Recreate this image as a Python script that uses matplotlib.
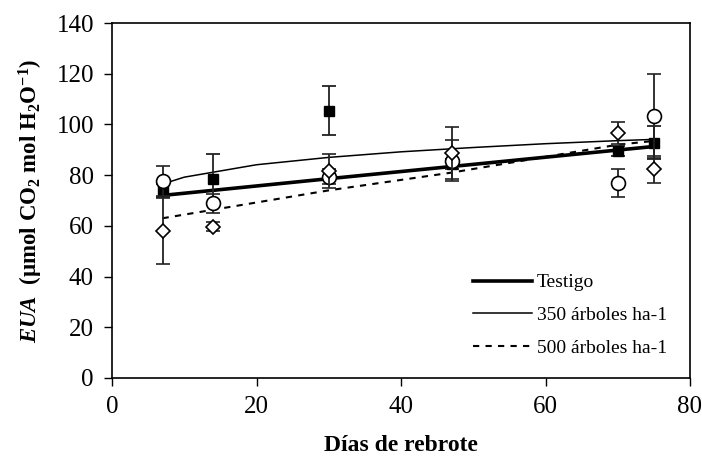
import matplotlib
matplotlib.use("Agg")
import matplotlib.pyplot as plt

plt.rcParams["font.family"] = ["Liberation Serif", "DejaVu Serif"]
plt.rcParams["mathtext.fontset"] = "custom"
plt.rcParams["mathtext.rm"] = "Liberation Serif"
plt.rcParams["mathtext.it"] = "Liberation Serif:italic"
plt.rcParams["mathtext.bf"] = "Liberation Serif:bold"
plt.rcParams["mathtext.bfit"] = "Liberation Serif:bold:italic"

# Sampling days (días de rebrote)
dias = [7, 14, 30, 47, 70, 75]

# Observed EUA means and standard errors per treatment
testigo = [74.0, 78.3, 105.4, 84.5, 89.6, 92.8]
testigo_err = [2.5, 10.0, 9.6, 2.0, 2.0, 6.4]

arb350 = [77.7, 68.9, 79.4, 85.7, 77.0, 103.3]
arb350_err = [5.9, 3.7, 3.0, 8.2, 5.5, 16.6]

arb500 = [58.1, 59.7, 81.7, 88.6, 96.7, 82.3]
arb500_err = [13.0, 1.8, 6.6, 10.2, 4.4, 5.3]

# Fitted trend curves
fit_x_testigo = [7, 30, 47, 70, 75]
fit_y_testigo = [72.0, 78.6, 83.4, 89.9, 91.3]

fit_x_350 = [7, 10, 20, 30, 40, 50, 60, 70, 75]
fit_y_350 = [76.5, 79.2, 84.1, 87.0, 89.2, 90.9, 92.4, 93.6, 94.1]

fit_x_500 = [7, 30, 47, 70, 75]
fit_y_500 = [63.0, 74.0, 81.0, 92.0, 93.5]

legend_labels = ["Testigo", "350 árboles ha-1", "500 árboles ha-1"]

fig = plt.figure(figsize=(7.02, 4.66), dpi=100)
ax = fig.add_axes([112 / 702, 1 - 378 / 466, (690 - 112) / 702, (378 - 23) / 466])

# Trend lines
l1, = ax.plot(fit_x_testigo, fit_y_testigo, color="black", lw=2.6, zorder=2)
l2, = ax.plot(fit_x_350, fit_y_350, color="black", lw=1.1, zorder=2)
l3, = ax.plot(fit_x_500, fit_y_500, color="black", lw=1.5, ls=(0, (3, 3)), zorder=2)

# Observations with error bars
eb_kw = dict(ls="none", ecolor="#222222", elinewidth=1.3, capsize=5.2, capthick=1.3)
ax.errorbar(dias, testigo, yerr=testigo_err, marker="s", ms=6.5, mfc="black",
            mec="black", zorder=3, **eb_kw)
ax.errorbar(dias, arb350, yerr=arb350_err, marker="o", ms=10, mfc="white",
            mec="black", mew=1.2, zorder=4, **eb_kw)
ax.errorbar(dias, arb500, yerr=arb500_err, marker="D", ms=7.5, mfc="white",
            mec="black", mew=1.2, zorder=5, **eb_kw)

ax.set_xlim(0, 80)
ax.set_ylim(0, 140)
ax.set_xticks(range(0, 81, 20))
ax.set_yticks(range(0, 141, 20))
ax.tick_params(direction="out", length=6, width=1, labelsize=18, pad=7, color="black")
for s in ax.spines.values():
    s.set_linewidth(1.2)

ax.set_xlabel("Días de rebrote", fontsize=17, fontweight="bold", labelpad=12)
ax.set_ylabel(r"$\mathbfit{EUA}$  (µmol CO$_\mathbf{2}$ mol H$_\mathbf{2}$O$^\mathbf{-1}$)",
              fontsize=16.5, fontweight="bold", labelpad=8)

ax.legend([l1, l2, l3], legend_labels, loc="lower right", bbox_to_anchor=(0.99, 0.01),
          frameon=False, fontsize=14, handlelength=3.0, handletextpad=0.25,
          labelspacing=0.78)

fig.savefig("out.png", dpi=100)
